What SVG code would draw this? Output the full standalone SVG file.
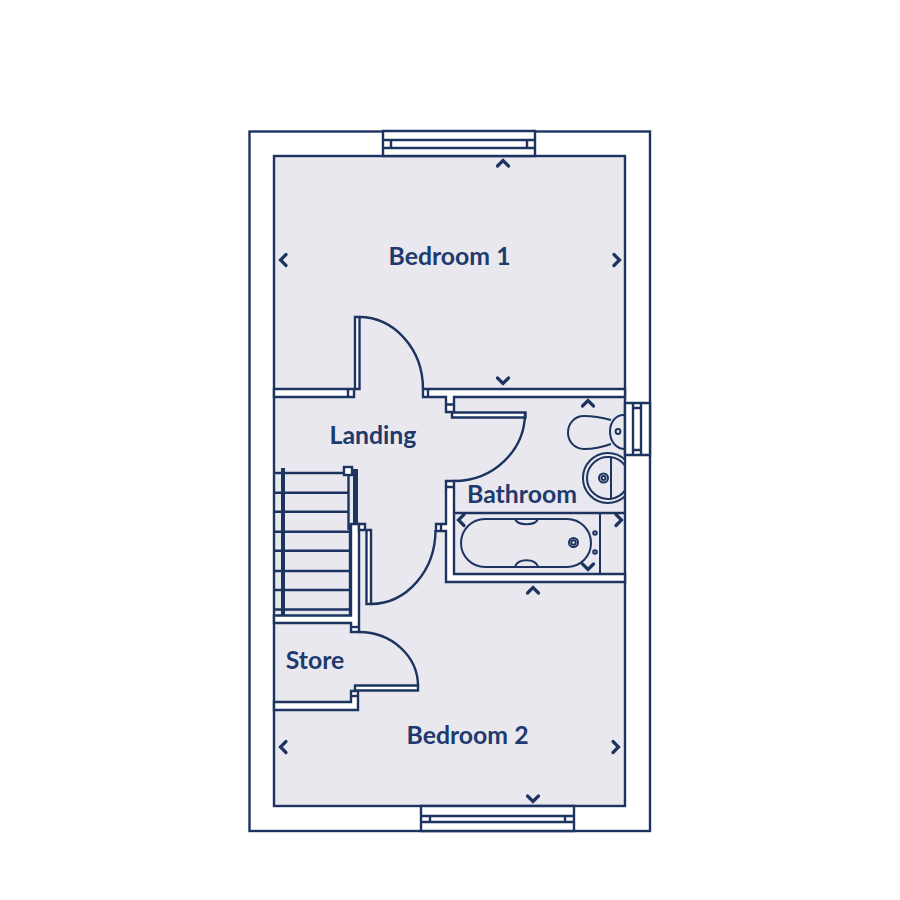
<svg xmlns="http://www.w3.org/2000/svg" width="900" height="900" viewBox="0 0 900 900">
<style>
.l{fill:none;stroke:#1d3461;stroke-width:2.4}
.w{fill:#fff;stroke:#1d3461;stroke-width:2.4;stroke-linejoin:miter}
.t{fill:none;stroke:#1d3461;stroke-width:2}
.c{fill:none;stroke:#1d3461;stroke-width:3.2;stroke-linecap:round;stroke-linejoin:miter}
.b{fill:#1d3461;stroke:none}
text{font-family:"Lato","Liberation Sans",sans-serif;font-weight:700;font-size:24.8px;fill:#1f3a6e;text-anchor:middle}
</style>
<defs><path id="up" d="M-5.5 3 L0 -2.5 L5.5 3" class="c"/></defs>
<rect width="900" height="900" fill="#fff"/>
<g id="shell">
<rect x="249.500" y="131.500" width="400.500" height="699.500" class="w"/>
<rect x="274" y="156" width="351" height="650" fill="#e9e8ee" stroke="#1d3461" stroke-width="2.4"/>
</g>
<g id="walls">
<path class="w" d="M274 389H354V397H274Z"/>
<path class="w" d="M423 389H625V397H454V412H446V397H423Z"/>
<path class="l" d="M446 404.500H454M348 389V397M428 389V397"/>
<path class="w" d="M446 481H454V574H625V582H446V531H436V524H446Z"/>
<path class="l" d="M446 487H454M441 524V531"/>
<path class="w" d="M351 524H359V632H351V623H274V615.500H351Z"/>
<path class="w" d="M359 524H365V530H359Z"/>
<path class="l" d="M351 627H359"/>
<path class="w" d="M274 702H351V691H358V710H274Z"/>
<path class="l" d="M351 696H358"/>
</g>
<g id="doors">
<path class="w" d="M355 317H359.500V389H355Z"/>
<path class="l" d="M359 317A64 72 0 0 1 423 389"/>
<path class="w" d="M452 412.500H525.500V417.500H452Z"/>
<path class="l" d="M525 413A71 68 0 0 1 454 481"/>
<path class="w" d="M366.500 530H371V604H366.500Z"/>
<path class="l" d="M371 604A65 74 0 0 0 435.500 530"/>
<path class="w" d="M355 685.500H418V690.500H355Z"/>
<path class="l" d="M359 632A59 54 0 0 1 418 686"/>
</g>
<g id="stairs">
<path class="l" d="M274 473H344M274 492.700H348M274 511.700H348M274 531.700H350M274 550.700H350M274 571H350M274 590H350M274 609.500H350"/>
<path class="l" d="M348.500 473V530M350 524V615.500"/>
<rect class="b" x="281" y="468" width="4" height="148"/>
<rect class="b" x="353" y="469" width="5" height="55"/>
<rect class="w" x="344" y="467" width="8" height="8"/>
</g>
<g id="windows">
<path class="w" d="M383 131H535V156H383Z"/>
<path class="l" d="M383 140H535M383 148H535M391 140V148M527 140V148"/>
<path class="w" d="M421 806H574V831H421Z"/>
<path class="l" d="M421 816H574M421 822H574M430 816V822M565 816V822"/>
<path class="w" d="M625 403H650V455H625Z"/>
<path class="l" d="M633 403V455M641 403V455M633 408H641M633 450H641"/>
</g>
<g id="fixtures">
<path class="t" d="M611 420C600 417 592 416 584 416C574 416 568 424 568 432.500C568 441 574 449 584 449C592 449 600 448 611 444"/>
<path class="t" d="M625 415C616 414 610 422 610 431.500C610 441 616 449 625 449"/>
<circle class="t" cx="618" cy="431.500" r="2.400"/>
<path class="t" d="M625 459.700A25 25 0 1 0 625 496.300M625 465.700A21 21 0 1 0 625 490.300M611 457V499"/>
<circle class="t" cx="603.500" cy="478" r="4.500"/>
<circle class="t" cx="603.500" cy="478" r="2"/>
<path class="l" d="M454 513H625"/>
<path class="t" d="M600 513V574"/>
<rect class="t" x="461" y="519" width="130" height="48" rx="24" ry="24"/>
<path class="t" d="M515 519C518 526 535 526 538 519M515 566.500C518 558 535 558 538 566.500"/>
<circle class="t" cx="573.500" cy="542.500" r="4.500"/>
<circle class="t" cx="573.500" cy="542.500" r="2.200"/>
<circle class="t" cx="595" cy="533" r="1.800"/>
<circle class="t" cx="595" cy="552" r="1.800"/>
</g>
<g id="markers">
<use href="#up" transform="translate(503 163)"/>
<use href="#up" transform="translate(283 260) rotate(-90)"/>
<use href="#up" transform="translate(617 260) rotate(90)"/>
<use href="#up" transform="translate(503 381) rotate(180)"/>
<use href="#up" transform="translate(588 403)"/>
<use href="#up" transform="translate(533 590)"/>
<use href="#up" transform="translate(461 520) rotate(-90)"/>
<use href="#up" transform="translate(619 520) rotate(90)"/>
<use href="#up" transform="translate(588 567) rotate(180)"/>
<use href="#up" transform="translate(283 747) rotate(-90)"/>
<use href="#up" transform="translate(616 747) rotate(90)"/>
<use href="#up" transform="translate(533 799) rotate(180)"/>
</g>
<g id="labels">
<text x="449.500" y="265">Bedroom 1</text>
<text x="373" y="444">Landing</text>
<text x="522" y="503">Bathroom</text>
<text x="315" y="669">Store</text>
<text x="467.500" y="744">Bedroom 2</text>
</g>
</svg>
